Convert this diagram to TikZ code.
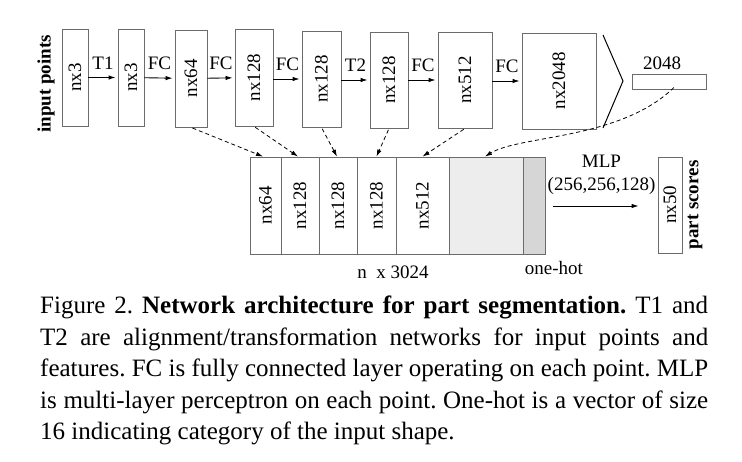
\documentclass[tikz,border=0pt]{standalone}
\usepackage{fontspec}
\setmainfont{Liberation Serif}
\usetikzlibrary{arrows.meta,calc}
\begin{document}
\frenchspacing
\begin{tikzpicture}[x=1pt,y=-1pt,
  lay/.style={draw=black!58, line width=0.9pt, inner sep=0pt, font=\fontsize{19}{19}\selectfont},
  fwd/.style={-{Latex[length=7pt,width=4.5pt]}, line width=0.9pt, shorten >=2pt},
  skip/.style={-{Latex[length=7pt,width=4.5pt]}, line width=0.8pt, dash pattern=on 4pt off 3pt, shorten <=1.5pt},
  lbl/.style={font=\fontsize{19}{19}\selectfont, inner sep=1pt, above=7pt},
  side/.style={font=\fontsize{19}{19}\selectfont\bfseries, rotate=90, inner sep=0pt}]
\useasboundingbox (0,0) rectangle (742,462);
% top row
\node[lay, minimum width=26, minimum height=97] (a1) at (75,77.5) {\rotatebox{90}{nx3}};
\node[lay, minimum width=26, minimum height=97] (a2) at (131,77.5) {\rotatebox{90}{nx3}};
\node[lay, minimum width=32, minimum height=97] (a3) at (191,78.5) {\rotatebox{90}{nx64}};
\node[lay, minimum width=38, minimum height=97] (a4) at (254,77.5) {\rotatebox{90}{nx128}};
\node[lay, minimum width=39, minimum height=96] (a5) at (321.5,79) {\rotatebox{90}{nx128}};
\node[lay, minimum width=38, minimum height=96] (a6) at (389,80) {\rotatebox{90}{nx128}};
\node[lay, minimum width=54, minimum height=96] (a7) at (465,80) {\rotatebox{90}{nx512}};
\node[lay, minimum width=74, minimum height=96] (a8) at (559,81) {\rotatebox{90}{nx2048}};
\coordinate (t1) at (603,35);
\coordinate (t2) at (623,81);
\coordinate (t3) at (603,128);
\draw[line width=1pt] (t1) -- (t2) -- (t3);
\node[lay, minimum width=74, minimum height=15] (bar) at (669,81.5) {};
\node[font=\fontsize{19}{19}\selectfont] (glob) at (662,63) {2048};
\node[side] (inp) at (46,84) {input points};
\draw[fwd] (a1) -- node[lbl] (l1) {T1} (a2);
\draw[fwd] (a2) -- node[lbl] (l2) {FC} (a3);
\draw[fwd] (a3) -- node[lbl] (l3) {FC} (a4);
\draw[fwd] (a4.east |- 0,79) -- node[lbl] (l4) {FC} (a5.west |- 0,79);
\draw[fwd] (a5.east |- 0,80) -- node[lbl] (l5) {T2} (a6.west |- 0,80);
\draw[fwd] (a6.east |- 0,80) -- node[lbl] (l6) {FC} (a7.west |- 0,80);
\draw[fwd] (a7.east |- 0,81) -- node[lbl] (l7) {FC} (a8.west |- 0,81);
% bottom row
\node[lay, minimum width=31, minimum height=97] (b1) at (265.5,205.5) {\rotatebox{90}{nx64}};
\node[lay, minimum width=38, minimum height=97] (b2) at (300,205.5) {\rotatebox{90}{nx128}};
\node[lay, minimum width=38, minimum height=97] (b3) at (338,205.5) {\rotatebox{90}{nx128}};
\node[lay, minimum width=39, minimum height=97] (b4) at (376.5,205.5) {\rotatebox{90}{nx128}};
\node[lay, minimum width=53, minimum height=97] (b5) at (422.5,205.5) {\rotatebox{90}{nx512}};
\node[lay, fill=black!7, minimum width=74, minimum height=97] (b6) at (486,205.5) {};
\node[lay, fill=black!16, minimum width=22, minimum height=97] (b7) at (534,205.5) {};
\node[font=\fontsize{19}{19}\selectfont] (nsize) at (393,272) {n\enspace x 3024};
\node[font=\fontsize{19}{19}\selectfont] (oh) at (554,268) {one-hot};
\node[lay, minimum width=24, minimum height=96] (ps) at (670,205) {\rotatebox{90}{nx50}};
\node[side] (pst) at (695,205) {part scores};
\draw[fwd, shorten <=8pt, shorten >=19pt] (b7.east |- 0,206) -- node[lbl, above=3pt, align=center, font=\fontsize{19}{23}\selectfont] (mlp) {MLP\\(256,256,128)} (ps.west |- 0,206);
% skip links
\draw[skip] (a3.south) -- ([xshift=-2.5pt]b1.north);
\draw[skip] (a4.south) -- ([xshift=-2pt]b2.north);
\draw[skip] (a5.south) -- ([xshift=-1pt]b3.north);
\draw[skip] (a6.south) -- (b4.north);
\draw[skip] (a7.south) -- (b5.north);
\draw[skip] ([xshift=6pt,yshift=3pt]bar.south) .. controls (620,140) and (520,135) .. ([xshift=-1pt]b6.north);
% caption
\node[anchor=north west, inner sep=0pt, text width=668pt, align=justify,
      font=\fontsize{25}{31.5}\selectfont] (cap) at (40,296)
 {Figure 2. \textbf{Network architecture for part segmentation.} T1 and\linebreak
  T2 are alignment/transformation networks for input points and\linebreak
  features. FC is fully connected layer operating on each point. MLP\linebreak
  is multi-layer perceptron on each point. One-hot is a vector of size\linebreak
  16 indicating category of the input shape.\par};
\end{tikzpicture}
\end{document}
